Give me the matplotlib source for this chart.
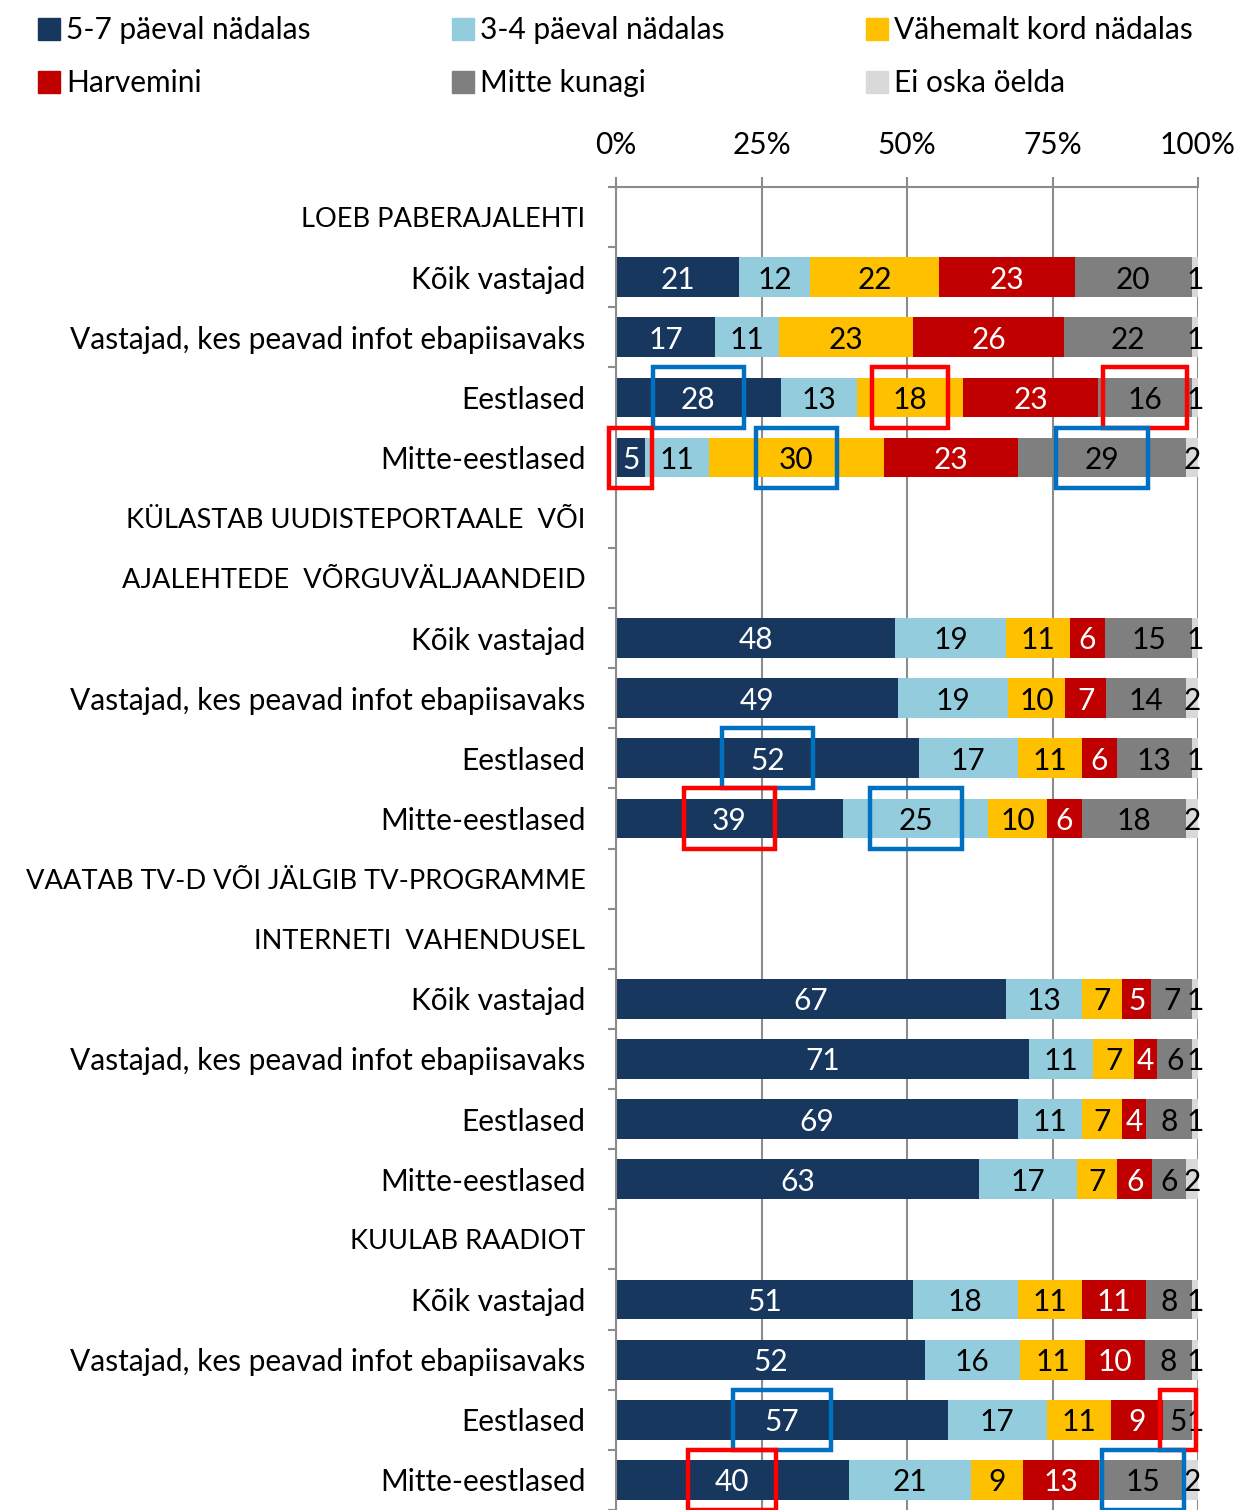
import numpy as np
import matplotlib.pyplot as plt
from matplotlib.patches import Rectangle

plt.rcParams['font.family'] = ['Lato', 'DejaVu Sans']

nan = np.nan

rows = ['LOEB PABERAJALEHTI', 'Kõik vastajad', 'Vastajad, kes peavad infot ebapiisavaks',
        'Eestlased', 'Mitte-eestlased',
        'KÜLASTAB UUDISTEPORTAALE  VÕI', 'AJALEHTEDE  VÕRGUVÄLJAANDEID',
        'Kõik vastajad', 'Vastajad, kes peavad infot ebapiisavaks', 'Eestlased', 'Mitte-eestlased',
        'VAATAB TV-D VÕI JÄLGIB TV-PROGRAMME', 'INTERNETI  VAHENDUSEL',
        'Kõik vastajad', 'Vastajad, kes peavad infot ebapiisavaks', 'Eestlased', 'Mitte-eestlased',
        'KUULAB RAADIOT',
        'Kõik vastajad', 'Vastajad, kes peavad infot ebapiisavaks', 'Eestlased', 'Mitte-eestlased']

p57 =    [nan, 21, 17, 28, 5,  nan, nan, 48, 49, 52, 39, nan, nan, 67, 71, 69, 63, nan, 51, 52, 57, 40]
p34 =    [nan, 12, 11, 13, 11, nan, nan, 19, 19, 17, 25, nan, nan, 13, 11, 11, 17, nan, 18, 16, 17, 21]
kord =   [nan, 22, 23, 18, 30, nan, nan, 11, 10, 11, 10, nan, nan, 7,  7,  7,  7,  nan, 11, 11, 11, 9]
harv =   [nan, 23, 26, 23, 23, nan, nan, 6,  7,  6,  6,  nan, nan, 5,  4,  4,  6,  nan, 11, 10, 9,  13]
mitte =  [nan, 20, 22, 16, 29, nan, nan, 15, 14, 13, 18, nan, nan, 7,  6,  8,  6,  nan, 8,  8,  5,  15]
eioska = [nan, 1,  1,  1,  2,  nan, nan, 1,  2,  1,  2,  nan, nan, 1,  1,  1,  2,  nan, 1,  1,  1,  2]

series = [p57, p34, kord, harv, mitte, eioska]
names = ['5-7 päeval nädalas', '3-4 päeval nädalas', 'Vähemalt kord nädalas',
         'Harvemini', 'Mitte kunagi', 'Ei oska öelda']
colors = ['#17375E', '#93CDDD', '#FFC000', '#C00000', '#7F7F7F', '#D9D9D9']
text_colors = ['white', 'black', 'black', 'white', 'black', 'black']

# highlighted segments: (row, series index, colour, box width in %)
highlights = [(3, 0, '#0070C0', 15.6), (3, 2, '#FF0000', 13.0), (3, 4, '#FF0000', 14.3),
              (4, 0, '#FF0000', 7.5), (4, 2, '#0070C0', 14.0), (4, 4, '#0070C0', 15.8),
              (9, 0, '#0070C0', 15.6), (10, 0, '#FF0000', 15.5), (10, 1, '#0070C0', 15.8),
              (20, 0, '#0070C0', 16.8), (20, 4, '#FF0000', 6.2),
              (21, 0, '#FF0000', 15.1), (21, 4, '#0070C0', 14.1)]

W, H = 1240, 1510
fig = plt.figure(figsize=(W / 100, H / 100), dpi=100)
ax = fig.add_axes([616 / W, 0, 582 / W, 1 - 187 / H])

fs = 21.5
data = np.array(series, dtype=float)          # 6 x rows
totals = np.nansum(data, axis=0)
is_header = totals == 0
totals[is_header] = 1
share = data / totals * 100                   # 100 % stacked

y = np.arange(len(rows))
left = np.zeros(len(rows))
starts = []
for k, (c, tc) in enumerate(zip(colors, text_colors)):
    v = share[k]
    v0 = np.nan_to_num(v)
    ax.barh(y, v0, left=left, height=0.66, color=c, linewidth=0)
    for yi in y:
        if not np.isnan(v[yi]):
            ax.text(left[yi] + v[yi] / 2, yi + 0.04, f'{int(data[k, yi])}', ha='center',
                    va='center', color=tc, fontsize=fs)
    starts.append(left.copy())
    left += v0

for r, s, col, bw in highlights:
    cx = starts[s][r] + share[s, r] / 2
    ax.add_patch(Rectangle((cx - bw / 2, r - 0.5), bw, 1.0, fill=False, edgecolor=col,
                           linewidth=3.2, clip_on=False, zorder=5))

ax.set_xlim(0, 100)
ax.set_ylim(-0.5 + (H - 187) / 60.43, -0.5)
ax.xaxis.tick_top()
ax.set_xticks([0, 25, 50, 75, 100])
ax.set_xticklabels(['0%', '25%', '50%', '75%', '100%'], fontsize=fs)
ax.tick_params(axis='x', length=7, width=1.5, color='#8C8C8C', pad=13)
ax.grid(axis='x', color='#8C8C8C', linewidth=1.5)
ax.set_axisbelow(True)

ax.set_yticks(y)
ax.set_yticklabels(rows, fontsize=fs)
for lab, hdr in zip(ax.get_yticklabels(), is_header):
    if hdr:
        lab.set_fontsize(19.6)
ax.tick_params(axis='y', which='major', length=0, pad=22)
ax.set_yticks(np.arange(-0.5, len(rows)), minor=True)
ax.tick_params(axis='y', which='minor', length=6, width=1.5, color='#8C8C8C')

for side in ['right', 'bottom']:
    ax.spines[side].set_visible(False)
for side in ['top', 'left']:
    ax.spines[side].set_color('#8C8C8C')
    ax.spines[side].set_linewidth(1.5)

# legend, 3 columns x 2 rows
for i, (name, c) in enumerate(zip(names, colors)):
    x0 = 38 + 414 * (i % 3)
    yc = 29 + 53 * (i // 3)
    fig.add_artist(Rectangle((x0 / W, 1 - (yc + 11) / H), 22 / W, 22 / H,
                             transform=fig.transFigure, color=c))
    fig.text((x0 + 28) / W, 1 - (yc + 1) / H, name, va='center', fontsize=fs)

fig.savefig('out.png', dpi=100)
